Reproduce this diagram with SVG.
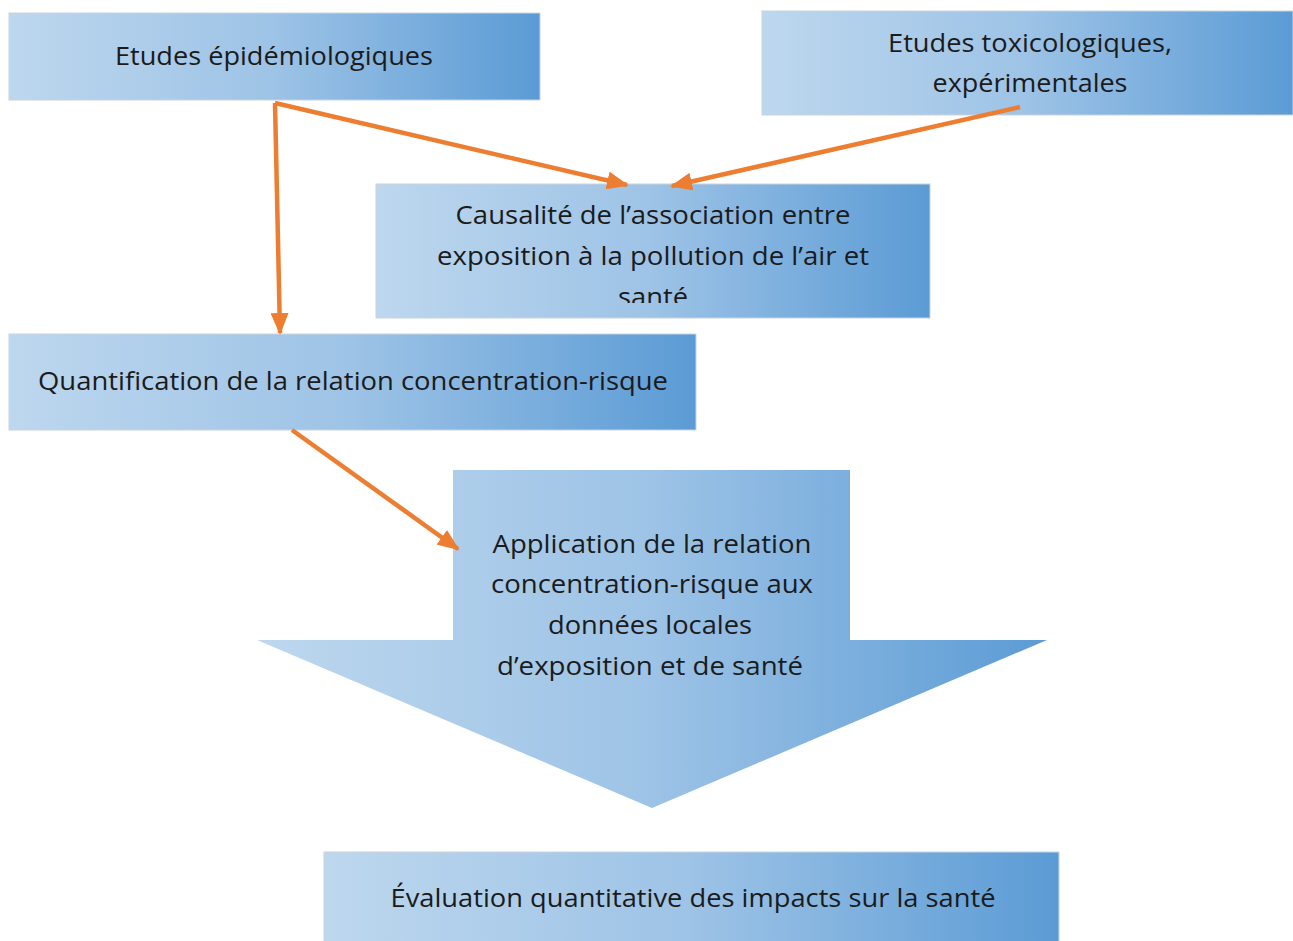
<svg xmlns="http://www.w3.org/2000/svg" width="1293" height="941" viewBox="0 0 1293 941">
<style>
.box{fill:url(#g);stroke:#c9d3dd;stroke-width:1}
.t{font-family:"Open Sans","Noto Sans",sans-serif;font-size:25.5px;fill:#1b1b1b;text-anchor:middle}
.c{fill:none;stroke:#ED7D31;stroke-width:4.5;marker-end:url(#ah)}
</style>
<defs>
<linearGradient id="g" x1="0" y1="0" x2="1" y2="0">
<stop offset="0" stop-color="#BDD7EE"/>
<stop offset="0.5" stop-color="#9DC3E6"/>
<stop offset="1" stop-color="#5B9BD5"/>
</linearGradient>
<marker id="ah" markerUnits="userSpaceOnUse" markerWidth="22" markerHeight="18" refX="20" refY="9" orient="auto">
<path d="M0,0 L22,9 L0,18 z" fill="#ED7D31"/>
</marker>
<clipPath id="clip3"><rect x="376" y="184" width="554" height="119"/></clipPath>
</defs>
<rect width="1293" height="941" fill="#fff"/>
<g id="n1">
<rect class="box" x="9" y="13" width="531" height="87"/>
<text class="t" x="274" y="65" textLength="318" lengthAdjust="spacingAndGlyphs">Etudes épidémiologiques</text>
</g>
<g id="n2">
<rect class="box" x="762" y="11" width="531" height="104"/>
<text class="t" x="1030" y="52" textLength="284" lengthAdjust="spacingAndGlyphs">Etudes toxicologiques,</text>
<text class="t" x="1030" y="92" textLength="195" lengthAdjust="spacingAndGlyphs">expérimentales</text>
</g>
<g id="n3">
<rect class="box" x="376" y="184" width="554" height="134"/>
<g clip-path="url(#clip3)">
<text class="t" x="653" y="224" textLength="395" lengthAdjust="spacingAndGlyphs">Causalité de l’association entre</text>
<text class="t" x="653" y="265" textLength="432" lengthAdjust="spacingAndGlyphs">exposition à la pollution de l’air et</text>
<text class="t" x="653" y="306" textLength="70" lengthAdjust="spacingAndGlyphs">santé</text>
</g>
</g>
<g id="n4">
<rect class="box" x="9" y="334" width="687" height="96"/>
<text class="t" x="353" y="390" textLength="630" lengthAdjust="spacingAndGlyphs">Quantification de la relation concentration-risque</text>
</g>
<g id="n5">
<path d="M453,470 L850,470 L850,640 L1047,640 L652,808 L257,640 L453,640 z" fill="url(#g)"/>
<text class="t" x="652" y="553" textLength="319" lengthAdjust="spacingAndGlyphs">Application de la relation</text>
<text class="t" x="652" y="593" textLength="322" lengthAdjust="spacingAndGlyphs">concentration-risque  aux</text>
<text class="t" x="650" y="634" textLength="204" lengthAdjust="spacingAndGlyphs">données locales</text>
<text class="t" x="650" y="675" textLength="306" lengthAdjust="spacingAndGlyphs">d’exposition et de santé</text>
</g>
<g id="n6">
<rect class="box" x="324" y="852" width="735" height="95"/>
<text class="t" x="693" y="907" textLength="605" lengthAdjust="spacingAndGlyphs">Évaluation quantitative des impacts sur la santé</text>
</g>
<g id="connectors">
<path class="c" d="M275,103 L280,333"/>
<path class="c" d="M275,103 L627,185"/>
<path class="c" d="M1020,107 L672,186"/>
<path class="c" d="M292,430 L458,549"/>
</g>
</svg>
